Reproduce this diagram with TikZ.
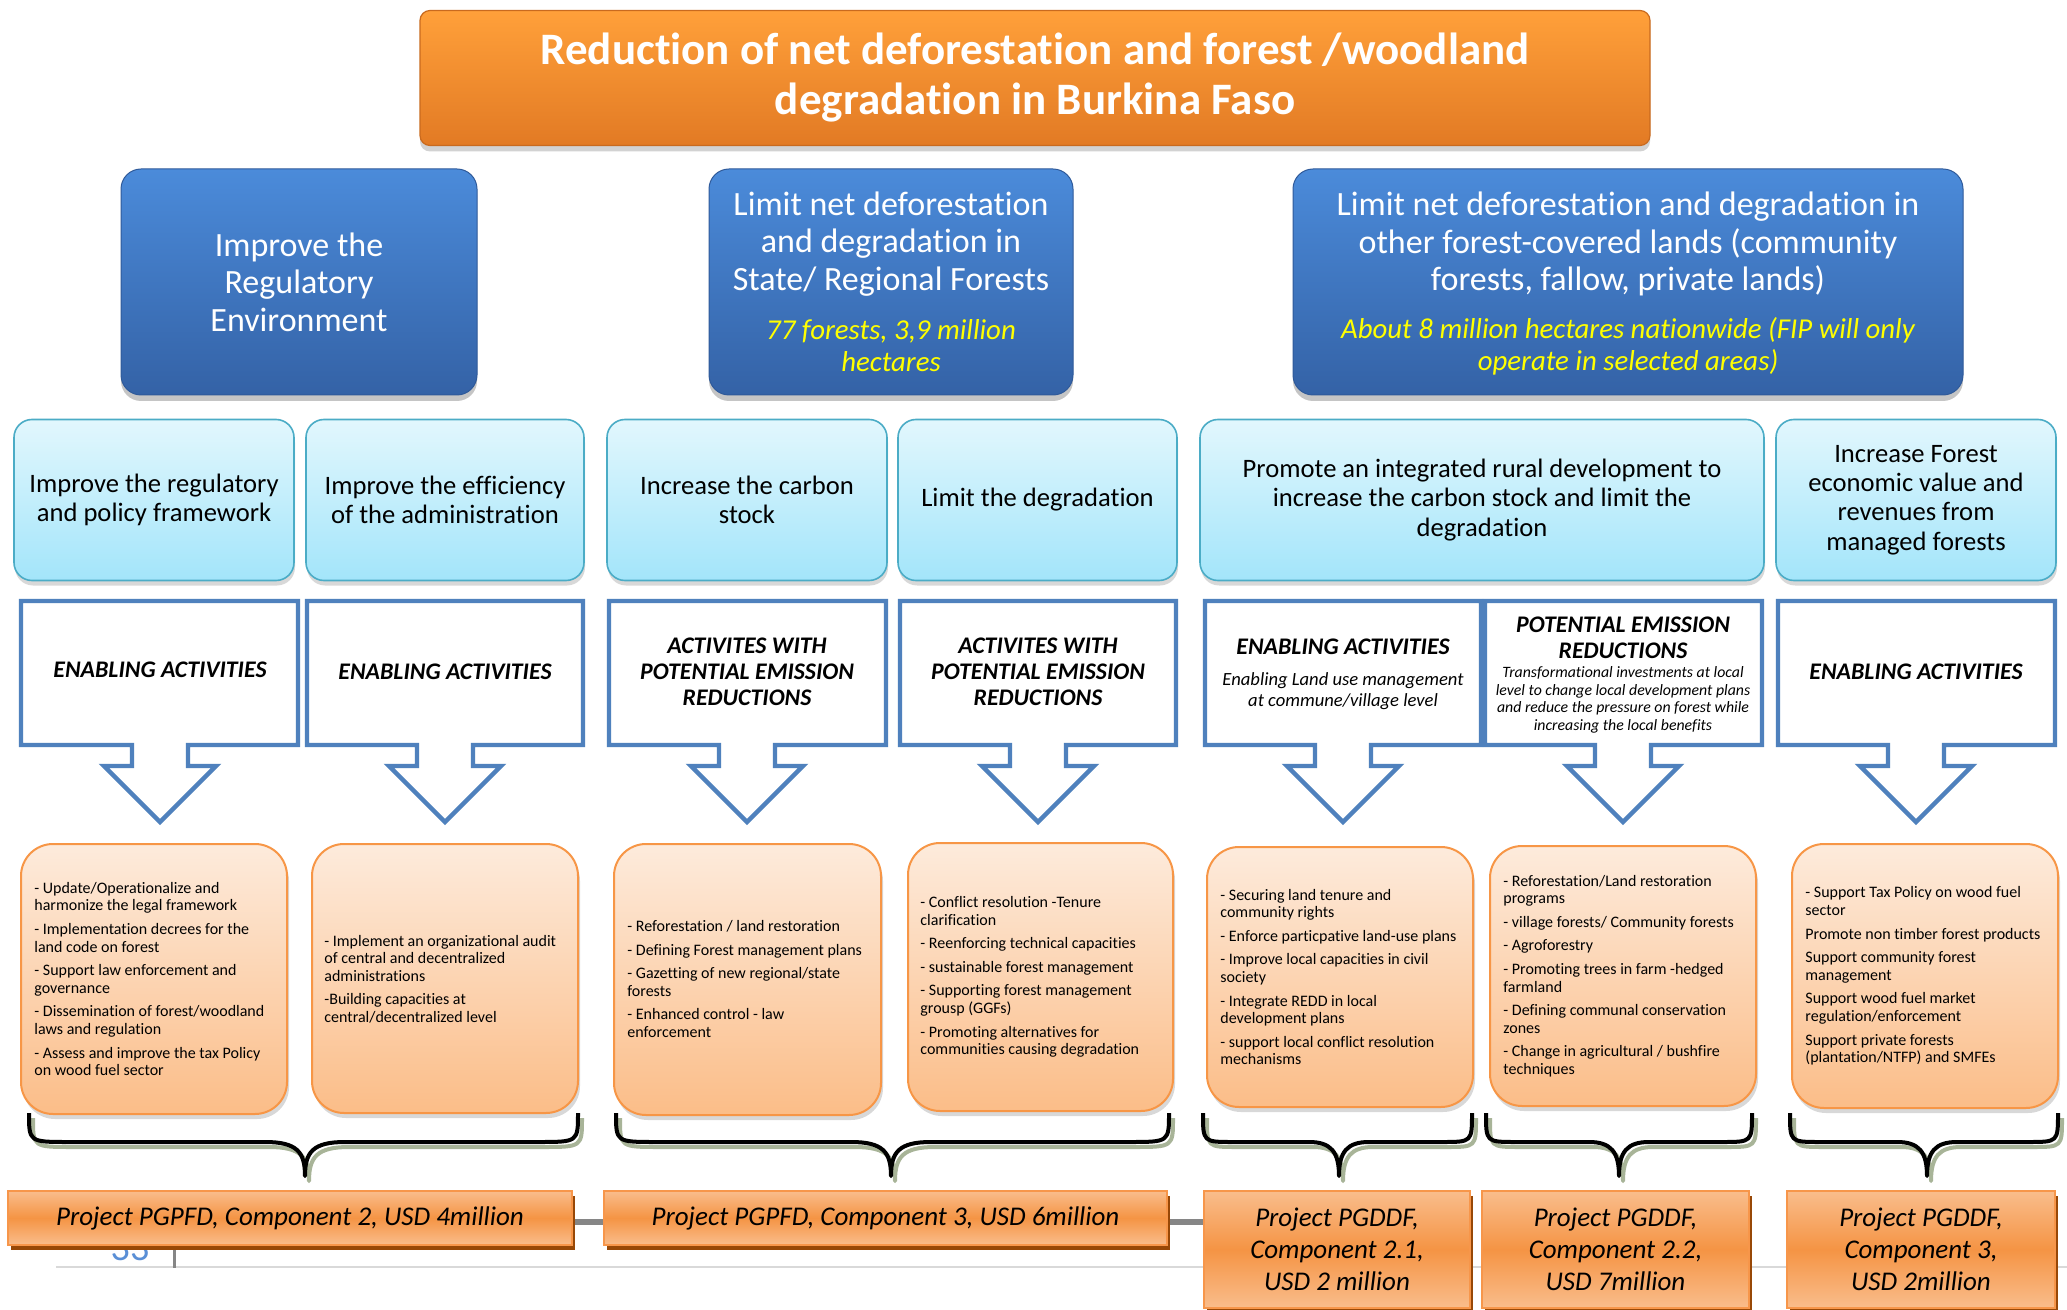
\documentclass[tikz,border=0pt]{standalone}
\usepackage{fontspec}
\setmainfont{Carlito}[Ligatures=NoCommon]
\usetikzlibrary{shadows}

\definecolor{titletop}{HTML}{FFA03A}
\definecolor{titlebot}{HTML}{E27A24}
\definecolor{titleedge}{HTML}{C96A1E}
\definecolor{goaltop}{HTML}{4B8BDA}
\definecolor{goalbot}{HTML}{3462A6}
\definecolor{goaledge}{HTML}{2F5A9A}
\definecolor{noteyellow}{HTML}{FFFF00}
\definecolor{objtop}{HTML}{E2F7FD}
\definecolor{objbot}{HTML}{A3E5FA}
\definecolor{objedge}{HTML}{4BACC6}
\definecolor{calledge}{HTML}{4F81BD}
\definecolor{acttop}{HTML}{FDEBDC}
\definecolor{actbot}{HTML}{FBBD88}
\definecolor{actedge}{HTML}{F79646}
\definecolor{projlight}{HTML}{F9BD8C}
\definecolor{projmid}{HTML}{F59444}
\definecolor{projedge}{HTML}{F7964A}
\definecolor{projshade}{HTML}{984807}
\definecolor{braceshade}{HTML}{A8B498}
\definecolor{footgray}{HTML}{868686}
\definecolor{footline}{HTML}{D9D9D9}
\definecolor{pagenum}{HTML}{5A8FD6}

% down-pointing callout: box between x=#1 and x=#2, arrow centred on x=#3
\newcommand\calloutshape[3]{%
  \draw[callline] (#1,601) -- (#2,601) -- (#2,745) -- (#3+28,745) -- (#3+28,766)
    -- (#3+56,766) -- (#3,822) -- (#3-56,766) -- (#3-28,766) -- (#3-28,745)
    -- (#1,745) -- cycle;}

% curly brace under the activity boxes: left, right, tip x, curl radius
\newcommand\curlybrace[4]{%
  \foreach \sx/\sy/\col in {4/5/braceshade,0/0/black}{%
    \draw[draw=\col, line width=2pt, line join=round, shift={(\sx,\sy)}]
      (#1,1113) .. controls (#1,1142) .. (#1+#4,1142) -- (#3-#4,1142)
      .. controls (#3-8,1142) and (#3,1152) .. (#3,1176)
      .. controls (#3,1152) and (#3+8,1142) .. (#3+#4,1142)
      -- (#2-#4,1142) .. controls (#2,1142) .. (#2,1113);}}

\begin{document}
\begin{tikzpicture}[x=0.5pt,y=-0.5pt,
  titlebox/.style={draw=titleedge, line width=0.6pt, rounded corners=5pt,
    top color=titletop, bottom color=titlebot, text=white, align=center,
    font=\fontsize{22.5}{25}\selectfont\bfseries, inner sep=0pt,
    drop shadow={opacity=0.35, shadow xshift=0pt, shadow yshift=-3pt}},
  goalbox/.style={draw=goaledge, line width=0.5pt, rounded corners=10pt,
    top color=goaltop, bottom color=goalbot, text=white, align=center,
    font=\fontsize{17}{18.8}\selectfont, inner sep=0pt,
    drop shadow={opacity=0.45, shadow xshift=0pt, shadow yshift=-3pt}},
  goaltext/.style={text=white, align=center, inner sep=0pt,
    font=\fontsize{17}{18.8}\selectfont},
  goalnote/.style={text=noteyellow, align=center, inner sep=0pt,
    font=\fontsize{14.4}{16}\selectfont\itshape},
  objbox/.style={draw=objedge, line width=0.8pt, rounded corners=9pt,
    top color=objtop, bottom color=objbot, align=center, inner sep=0pt,
    minimum height=80.5pt, font=\fontsize{13.3}{14.6}\selectfont,
    drop shadow={opacity=0.3, shadow xshift=0.5pt, shadow yshift=-2.5pt}},
  callline/.style={draw=calledge, fill=white, line width=2.2pt, line join=miter},
  calltext/.style={align=center, inner sep=0pt,
    font=\fontsize{11.9}{13.1}\selectfont\bfseries\itshape},
  actbox/.style={draw=actedge, line width=1pt, rounded corners=16pt,
    top color=acttop, bottom color=actbot, inner sep=0pt,
    drop shadow={opacity=0.3, shadow xshift=1pt, shadow yshift=-2.5pt}},
  acttext/.style={anchor=west, align=left, inner sep=0pt,
    font=\fontsize{8}{8.8}\selectfont},
  projbox/.style={draw=projedge, line width=0.8pt,
    top color=projlight, bottom color=projlight, middle color=projmid,
    align=center, inner sep=0pt, font=\fontsize{13.5}{16}\selectfont\itshape,
    drop shadow={fill=projshade, opacity=1, shadow xshift=1.5pt, shadow yshift=-2.5pt}}
]
\useasboundingbox (0,0) rectangle (2067,1310);
\fill[white] (0,0) rectangle (2067,1310);

% ---------- overall goal ----------
\node[titlebox, minimum width=615pt, minimum height=67.5pt] (title) at (1035,78)
  {Reduction of net deforestation and forest /woodland\\degradation in Burkina Faso};

% ---------- strategic axes ----------
\node[goalbox, minimum width=178pt, minimum height=113pt] (g1) at (299,282)
  {Improve the\\Regulatory\\Environment};
\node[goalbox, minimum width=182pt, minimum height=113pt] (g2) at (891,282) {};
\node[goaltext] (g2t) at (891,244)
  {Limit net deforestation\\and degradation in\\State/ Regional Forests};
\node[goalnote] (g2n) at (891,346) {77 forests, 3,9 million\\hectares};
\node[goalbox, minimum width=335pt, minimum height=113pt] (g3) at (1628,282) {};
\node[goaltext] (g3t) at (1628,244)
  {Limit net deforestation and degradation in\\other forest-covered lands (community\\forests, fallow, private lands)};
\node[goalnote] (g3n) at (1628,346)
  {About 8 million hectares nationwide (FIP will only\\operate in selected areas)};

% ---------- objectives ----------
\node[objbox, minimum width=140pt] (s1) at (154,500)
  {Improve the regulatory\\and policy framework};
\node[objbox, minimum width=139pt] (s2) at (445,500)
  {Improve the efficiency\\of the administration};
\node[objbox, minimum width=140pt] (s3) at (747,500)
  {Increase the carbon\\stock};
\node[objbox, minimum width=139.5pt] (s4) at (1037.5,500)
  {Limit the degradation};
\node[objbox, minimum width=282pt] (s5) at (1482,500)
  {Promote an integrated rural development to\\increase the carbon stock and limit the\\degradation};
\node[objbox, minimum width=140pt] (s6) at (1916,500)
  {Increase Forest\\economic value and\\revenues from\\managed forests};

% ---------- activity type callouts ----------
\calloutshape{21}{298}{160}
\calloutshape{307}{583}{445}
\calloutshape{609}{886}{747}
\calloutshape{900}{1176}{1038}
\calloutshape{1205}{1481}{1343}
\calloutshape{1485}{1762}{1623}
\calloutshape{1778}{2055}{1916}

\node[calltext] (c1) at (160,670) {ENABLING ACTIVITIES};
\node[calltext] (c2) at (445,672) {ENABLING ACTIVITIES};
\node[calltext] (c3) at (747,672) {ACTIVITES WITH\\POTENTIAL EMISSION\\REDUCTIONS};
\node[calltext] (c4) at (1038,672) {ACTIVITES WITH\\POTENTIAL EMISSION\\REDUCTIONS};
\node[calltext] (c5) at (1343,647) {ENABLING ACTIVITIES};
\node[align=center, inner sep=0pt, font=\fontsize{9.3}{10.3}\selectfont\itshape]
  (c5n) at (1343,691) {Enabling Land use management\\at commune/village level};
\node[calltext] (c6) at (1623,638) {POTENTIAL EMISSION\\REDUCTIONS};
\node[align=center, inner sep=0pt, font=\fontsize{7.9}{8.8}\selectfont\itshape]
  (c6n) at (1623,700) {Transformational investments at local\\level to change local development plans\\and reduce the pressure on forest while\\increasing the local benefits};
\node[calltext] (c7) at (1916,672) {ENABLING ACTIVITIES};

% ---------- activity lists ----------
\node[actbox, minimum width=133pt, minimum height=135pt] (a1) at (154,979) {};
\node[actbox, minimum width=133pt, minimum height=134.5pt] (a2) at (445,978.5) {};
\node[actbox, minimum width=133.5pt, minimum height=135.5pt] (a3) at (747.5,979.5) {};
\node[actbox, minimum width=132.5pt, minimum height=134pt] (a4) at (1040.5,977) {};
\node[actbox, minimum width=133pt, minimum height=130pt] (a5) at (1340,977) {};
\node[actbox, minimum width=133pt, minimum height=130pt] (a6) at (1623,976) {};
\node[actbox, minimum width=133pt, minimum height=132pt] (a7) at (1925,976) {};

\node[acttext] (a1t) at (34,979)
  {- Update/Operationalize and\\harmonize the legal framework\\[3pt]
   - Implementation decrees for the\\land code on forest\\[3pt]
   - Support law enforcement and\\governance\\[3pt]
   - Dissemination of forest/woodland\\laws and regulation\\[3pt]
   - Assess and improve the tax Policy\\on wood fuel sector};
\node[acttext] (a2t) at (324,979)
  {- Implement an organizational audit\\of central and decentralized\\administrations\\[3pt]
   -Building capacities at\\central/decentralized level};
\node[acttext] (a3t) at (627,979)
  {- Reforestation / land restoration\\[3pt]
   - Defining Forest management plans\\[3pt]
   - Gazetting of new regional/state\\forests\\[3pt]
   - Enhanced control - law\\enforcement};
\node[acttext] (a4t) at (920,977)
  {- Conflict resolution -Tenure\\clarification\\[3pt]
   - Reenforcing technical capacities\\[3pt]
   - sustainable forest management\\[3pt]
   - Supporting forest management\\grousp (GGFs)\\[3pt]
   - Promoting alternatives for\\communities causing degradation};
\node[acttext] (a5t) at (1220,977)
  {- Securing land tenure and\\community rights\\[3pt]
   - Enforce particpative land-use plans\\[3pt]
   - Improve local capacities in civil\\society\\[3pt]
   - Integrate REDD in local\\development plans\\[3pt]
   - support local conflict resolution\\mechanisms};
\node[acttext] (a6t) at (1503,976)
  {- Reforestation/Land restoration\\programs\\[3pt]
   - village forests/ Community forests\\[3pt]
   - Agroforestry\\[3pt]
   - Promoting trees in farm -hedged\\farmland\\[3pt]
   - Defining communal conservation\\zones\\[3pt]
   - Change in agricultural / bushfire\\techniques};
\node[acttext] (a7t) at (1805,976)
  {- Support Tax Policy on wood fuel\\sector\\[3pt]
   Promote non timber forest products\\[3pt]
   Support community forest\\management\\[3pt]
   Support wood fuel market\\regulation/enforcement\\[3pt]
   Support private forests\\(plantation/NTFP) and SMFEs};

% ---------- braces ----------
\curlybrace{29}{578}{305}{40}
\curlybrace{616}{1169}{891}{40}
\curlybrace{1203}{1472}{1339}{30}
\curlybrace{1486}{1752}{1619}{30}
\curlybrace{1790}{2058}{1927}{30}

% ---------- footer rules and page number ----------
\draw[footline, line width=1pt] (56,1267) -- (2067,1267);
\draw[footgray, line width=1.5pt] (174,1244) -- (174,1268);
\draw[footgray, line width=3pt] (565,1222) -- (1210,1222);
\node[text=pagenum, anchor=base, inner sep=0pt, font=\fontsize{19}{19}\selectfont]
  (pg) at (130,1260) {33};

% ---------- funding projects ----------
\node[projbox, minimum width=282pt, minimum height=27pt] (p1) at (290,1218)
  {Project PGPFD, Component 2, USD 4million};
\node[projbox, minimum width=281.5pt, minimum height=27pt] (p2) at (885.5,1218)
  {Project PGPFD, Component 3, USD 6million};
\node[projbox, minimum width=133pt, minimum height=58.5pt] (p3) at (1337,1249.5)
  {Project PGDDF,\\Component 2.1,\\USD 2 million};
\node[projbox, minimum width=133.5pt, minimum height=58.5pt] (p4) at (1615.5,1249.5)
  {Project PGDDF,\\Component 2.2,\\USD 7million};
\node[projbox, minimum width=134pt, minimum height=58.5pt] (p5) at (1921,1249.5)
  {Project PGDDF,\\Component 3,\\USD 2million};
\end{tikzpicture}
\end{document}
